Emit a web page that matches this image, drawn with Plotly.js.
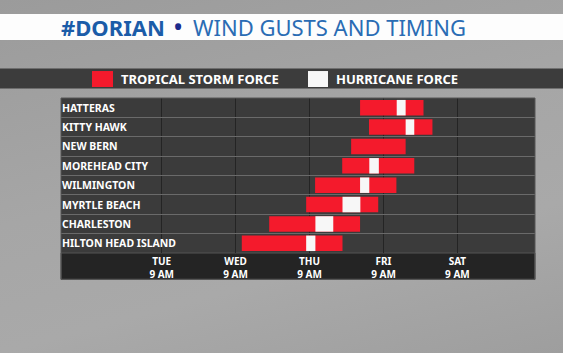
<!DOCTYPE html>
<html>
<head>
<meta charset="utf-8">
<script src="https://cdn.plot.ly/plotly-3.0.1.min.js"></script>
<style>
html,body{margin:0;padding:0;}
#chart{width:563px;height:353px;background:linear-gradient(165deg,#9b9b9b 0%,#a6a6a6 45%,#a9a9a9 70%,#9e9e9e 100%);}
</style>
</head>
<body>
<div id="chart"></div>
<script>
// Hours measured from Tuesday 9 AM
const cities = ['HATTERAS','KITTY HAWK','NEW BERN','MOREHEAD CITY','WILMINGTON','MYRTLE BEACH','CHARLESTON','HILTON HEAD ISLAND'];
const tsStart = [64.4, 67.3, 61.5, 58.6, 49.8, 46.9, 34.9, 26.0];
const tsEnd   = [85.0, 87.9, 79.2, 82.0, 76.2, 70.3, 64.4, 58.7];
const hurStart = [76.3, 79.2, null, 67.4, 64.4, 58.7, 49.9, 46.9];
const hurEnd   = [79.2, 82.0, null, 70.5, 67.4, 64.5, 55.7, 49.9];
const tickVals = [0, 24, 48, 72, 96];
const tickDays = ['TUE', 'WED', 'THU', 'FRI', 'SAT'];
const tickTimes = ['9 AM', '9 AM', '9 AM', '9 AM', '9 AM'];

const RED = '#f41a2c';
const WHITE = '#f7f7f7';
const F = '"Noto Sans", "DejaVu Sans", sans-serif';

const traces = [
  {
    type: 'bar', orientation: 'h', name: 'TROPICAL STORM FORCE',
    y: cities, base: tsStart, x: tsEnd.map((e, i) => e - tsStart[i]),
    width: 0.8, marker: {color: RED, line: {width: 0}},
    showlegend: false, hoverinfo: 'skip'
  },
  {
    type: 'bar', orientation: 'h', name: 'HURRICANE FORCE',
    y: cities, base: hurStart, x: hurEnd.map((e, i) => (e === null ? null : e - hurStart[i])),
    width: 0.8, marker: {color: WHITE, line: {width: 0}},
    showlegend: false, hoverinfo: 'skip'
  }
];

const annotations = [];
cities.forEach(c => annotations.push({
  xref: 'paper', yref: 'y', x: 0, y: c, xanchor: 'left', yanchor: 'middle',
  text: c, showarrow: false, xshift: -1,
  font: {family: F, size: 10.5, color: '#ffffff', weight: 700}
}));
// title
annotations.push({xref: 'paper', yref: 'paper', x: -0.004, y: 1.458, xanchor: 'left', yanchor: 'middle',
  text: '#DORIAN', showarrow: false, font: {family: F, size: 22, color: '#1b5ca8', weight: 700}});
annotations.push({xref: 'paper', yref: 'paper', x: 0.2462, y: 1.462, xanchor: 'center', yanchor: 'middle',
  text: '•', showarrow: false, font: {family: F, size: 27, color: '#1c2b8c'}});
annotations.push({xref: 'paper', yref: 'paper', x: 0.274, y: 1.458, xanchor: 'left', yanchor: 'middle',
  text: 'WIND GUSTS AND TIMING', showarrow: false, font: {family: F, size: 22, color: '#2a6cb4', weight: 400}});
// legend labels
annotations.push({xref: 'paper', yref: 'paper', x: 0.1215, y: 1.1226, xanchor: 'left', yanchor: 'middle',
  text: 'TROPICAL STORM FORCE', showarrow: false, font: {family: F, size: 13, color: '#ffffff', weight: 700}});
annotations.push({xref: 'paper', yref: 'paper', x: 0.575, y: 1.1226, xanchor: 'left', yanchor: 'middle',
  text: 'HURRICANE FORCE', showarrow: false, font: {family: F, size: 13, color: '#ffffff', weight: 700}});

const shapes = [
  // title band
  {type: 'rect', xref: 'paper', yref: 'paper', x0: -0.2, x1: 1.2, y0: 1.374, y1: 1.542,
   fillcolor: '#fdfdfd', line: {width: 0}, layer: 'below'},
  // legend band
  {type: 'rect', xref: 'paper', yref: 'paper', x0: -0.2, x1: 1.2, y0: 1.061, y1: 1.19,
   fillcolor: '#3c3c3c', line: {width: 0}, layer: 'below'},
  // axis label band
  {type: 'rect', xref: 'paper', yref: 'paper', x0: 0, x1: 1, y0: -0.17, y1: 0,
   fillcolor: '#242424', line: {color: '#555555', width: 1}, layer: 'below'},
  // legend swatches
  {type: 'rect', xref: 'paper', yref: 'paper', x0: 0.0654, x1: 0.1097, y0: 1.071, y1: 1.174,
   fillcolor: RED, line: {width: 0}},
  {type: 'rect', xref: 'paper', yref: 'paper', x0: 0.5211, x1: 0.5633, y0: 1.071, y1: 1.174,
   fillcolor: WHITE, line: {width: 0}},
  // frame
  {type: 'rect', xref: 'paper', yref: 'paper', x0: 0, x1: 1, y0: -0.17, y1: 1,
   fillcolor: 'rgba(0,0,0,0)', line: {color: '#565656', width: 1}}
];

const layout = {
  width: 563, height: 353,
  margin: {l: 61, r: 28, t: 98, b: 100, pad: 0},
  paper_bgcolor: 'rgba(0,0,0,0)',
  plot_bgcolor: '#3b3b3b',
  barmode: 'overlay',
  showlegend: false,
  xaxis: {
    range: [-32.7, 121.2], tickmode: 'array', tickvals: tickVals,
    ticktext: tickDays.map((d, i) => d + '<br>' + tickTimes[i]),
    showticklabels: true, ticklabelstandoff: 1,
    tickfont: {family: F, size: 10, color: '#ffffff', weight: 700},
    showgrid: true, gridcolor: '#242424', gridwidth: 1.5, zeroline: false,
    showline: false, ticks: '', fixedrange: true
  },
  yaxis: {
    type: 'category', categoryorder: 'array', categoryarray: cities,
    range: [7.5, -0.5], tickson: 'boundaries', showticklabels: false,
    showgrid: true, gridcolor: '#6a6a6a', gridwidth: 1, zeroline: false,
    showline: false, ticks: '', fixedrange: true
  },
  annotations: annotations,
  shapes: shapes
};

Plotly.newPlot('chart', traces, layout, {displayModeBar: false, staticPlot: true});
</script>
</body>
</html>
